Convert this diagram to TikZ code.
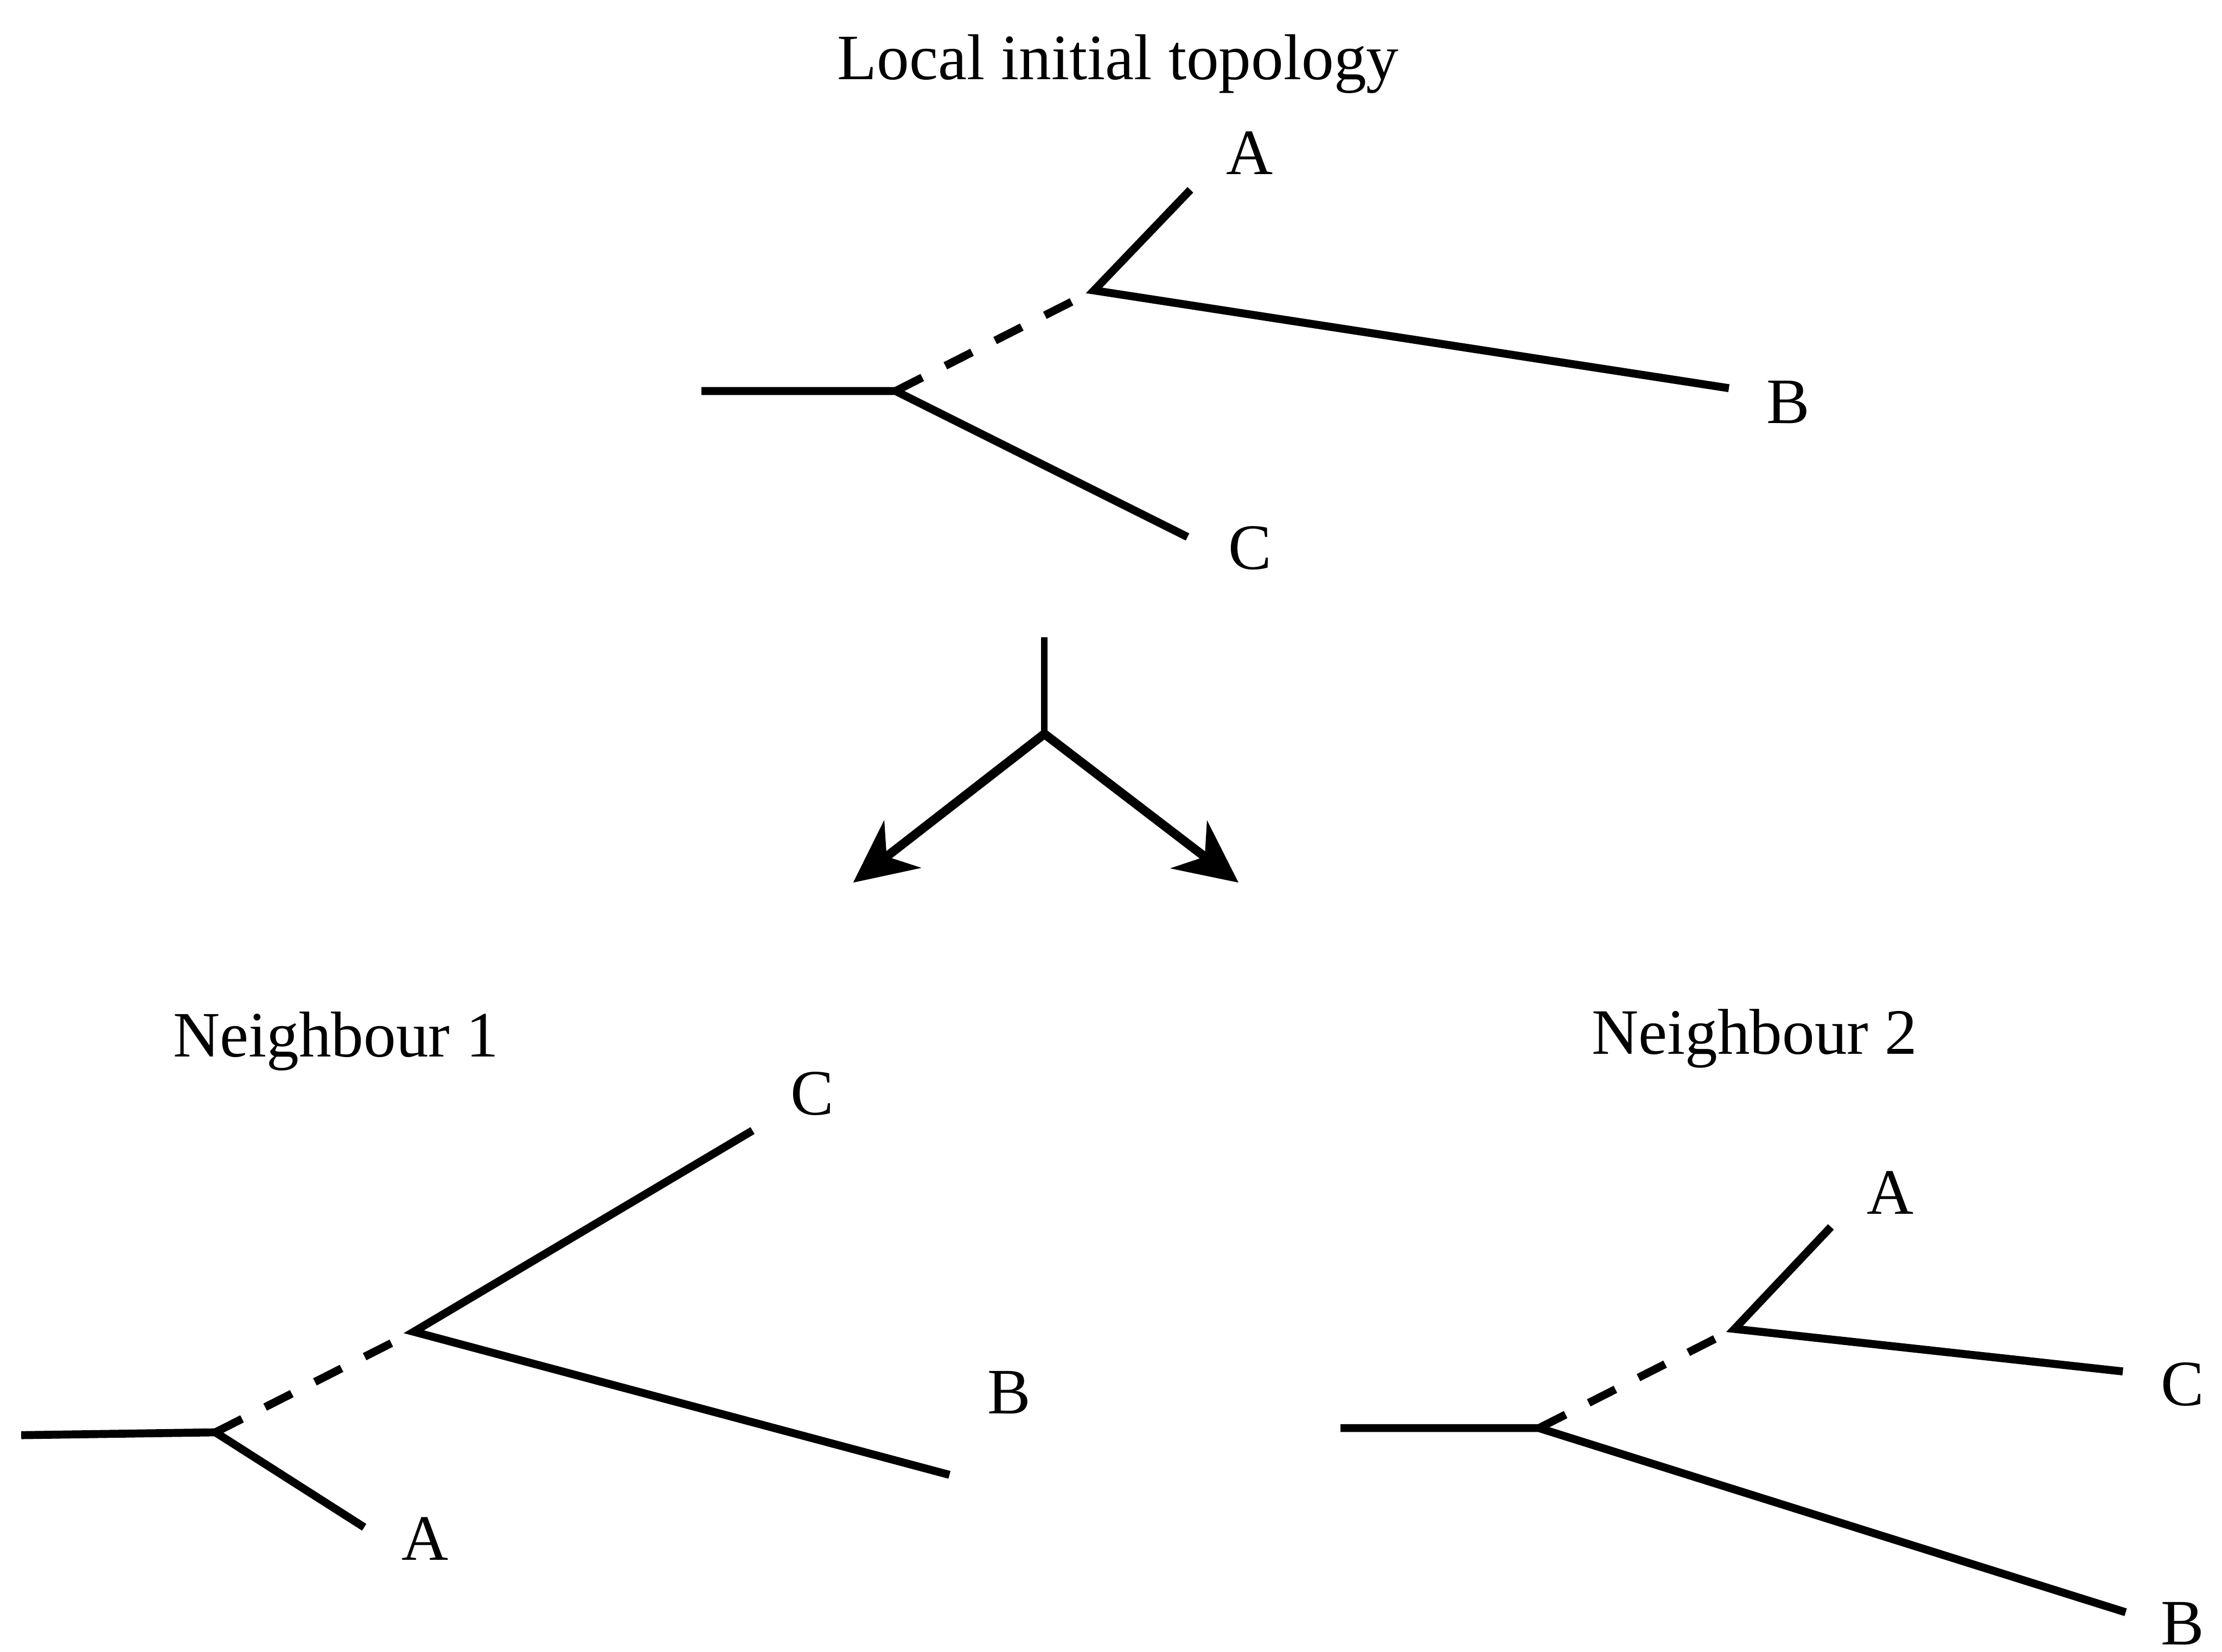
\documentclass[tikz,border=0pt]{standalone}
\usepackage{fontspec}
\setmainfont{Liberation Serif}
\usetikzlibrary{arrows.meta}
\tikzset{>=stealth}

\begin{document}
\begin{tikzpicture}[branch/.style={line width=1.6pt},
    hidden/.style={line width=1.6pt, dash pattern=on 6pt off 5.2pt},
    split/.style={line width=1.8pt, -{Stealth[length=0.44cm, width=0.42cm, inset=0.14cm]}},
    taxon/.style={font=\fontsize{13}{15}\selectfont, inner sep=0pt},
    title/.style={font=\fontsize{13}{15}\selectfont, inner sep=0pt, anchor=base}]
    \useasboundingbox (0,0) rectangle (15.68,11.66);
    % local initial topology
    \node[title] (tInit) at (7.89,11.10) {Local initial topology};
    \coordinate (iRoot) at (4.95,8.90);
    \coordinate (iU) at (6.32,8.90);
    \coordinate (iV) at (7.72,9.61);
    \coordinate (iA) at (8.40,10.32);
    \coordinate (iB) at (12.20,8.92);
    \coordinate (iC) at (8.38,7.87);
    \node[taxon] (lA) at (8.82,10.58) {A};
    \node[taxon] (lB) at (12.62,8.82) {B};
    \node[taxon] (lC) at (8.82,7.79) {C};
    \draw[branch] (iRoot) -- (iU) -- (iC);
    \draw[hidden] (iU) -- (iV);
    \draw[branch] (iA) -- (iV) -- (iB);
    % the two neighbours
    \coordinate (sTop) at (7.37,7.16);
    \coordinate (sMid) at (7.37,6.48);
    \coordinate (sL) at (6.02,5.43);
    \coordinate (sR) at (8.74,5.43);
    \draw[line width=1.3pt] (sTop) -- (sMid);
    \draw[split] (sMid) -- (sL);
    \draw[split] (sMid) -- (sR);
    % neighbour 1
    \node[title] (tOne) at (2.37,4.20) {Neighbour 1};
    \coordinate (aRoot) at (0.15,1.53);
    \coordinate (aU) at (1.52,1.55);
    \coordinate (aV) at (2.92,2.26);
    \coordinate (aC) at (5.31,3.68);
    \coordinate (aB) at (6.70,1.25);
    \coordinate (aA) at (2.57,0.88);
    \node[taxon] (mC) at (5.73,3.94) {C};
    \node[taxon] (mB) at (7.12,1.83) {B};
    \node[taxon] (mA) at (3.00,0.80) {A};
    \draw[branch] (aRoot) -- (aU) -- (aA);
    \draw[hidden] (aU) -- (aV);
    \draw[branch] (aC) -- (aV) -- (aB);
    % neighbour 2
    \node[title] (tTwo) at (12.38,4.22) {Neighbour 2};
    \coordinate (bRoot) at (9.46,1.58);
    \coordinate (bU) at (10.86,1.58);
    \coordinate (bV) at (12.24,2.28);
    \coordinate (bA) at (12.92,3.00);
    \coordinate (bC) at (14.98,1.98);
    \coordinate (bB) at (15.00,0.28);
    \node[taxon] (nA) at (13.34,3.24) {A};
    \node[taxon] (nC) at (15.40,1.89) {C};
    \node[taxon] (nB) at (15.40,0.20) {B};
    \draw[branch] (bRoot) -- (bU) -- (bB);
    \draw[hidden] (bU) -- (bV);
    \draw[branch] (bA) -- (bV) -- (bC);
\end{tikzpicture}
\end{document}
